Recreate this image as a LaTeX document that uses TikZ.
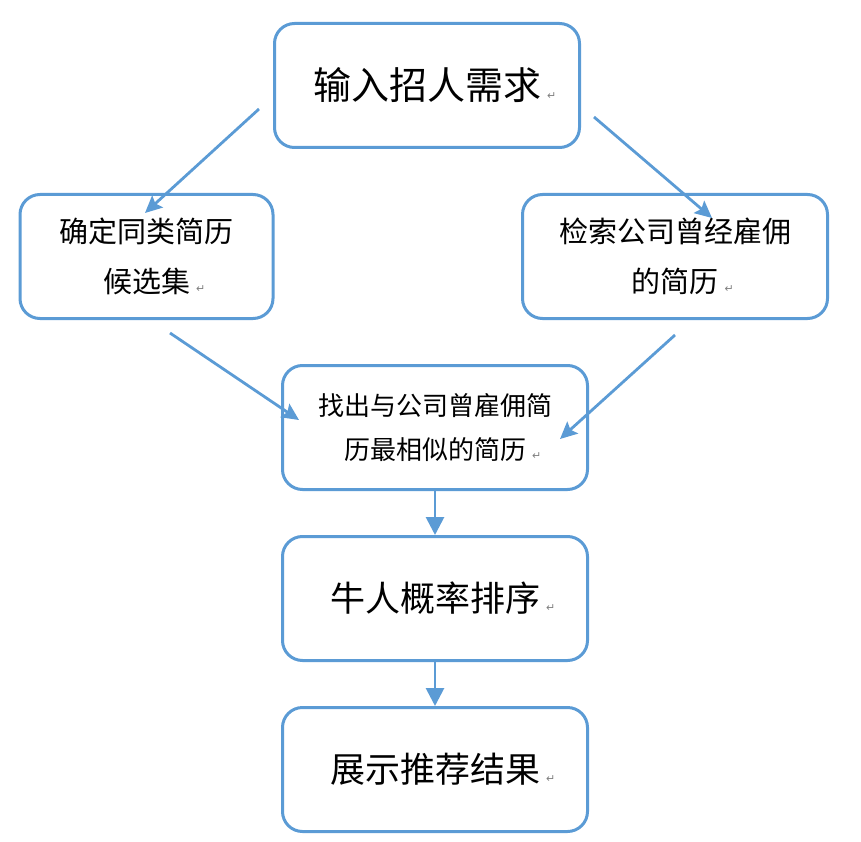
\documentclass[tikz,border=0pt]{standalone}
\usepackage{fontspec}
\newfontfamily\cjk{Noto Sans CJK SC}
\newfontfamily\symfont{DejaVu Sans}
\usetikzlibrary{arrows.meta}
\definecolor{wordblue}{HTML}{5B9BD5}
\newcommand{\retmark}{\rlap{\hspace{6pt}{\symfont\fontsize{11}{11}\selectfont\color{gray}↵}}}
\begin{document}
\begin{tikzpicture}[x=1pt,y=-1pt]

        \tikzset{
          stepbox/.style={draw=wordblue, line width=3pt, rounded corners=20pt,
            minimum width=305pt, minimum height=124pt, align=center, inner sep=0pt},
          flow/.style={draw=wordblue, line width=2.8pt, -{Stealth[length=17pt,width=16pt,inset=3pt]}},
          down/.style={draw=wordblue, line width=2.8pt, -{Triangle[length=18pt,width=18pt]}}
        }

        \useasboundingbox (0,0) rectangle (861,842);

        % Boxes
        \node[stepbox, font=\cjk\fontsize{38}{44}\selectfont] (need) at (427,85.5) {输入招人需求\retmark};
        \node[stepbox, minimum width=253pt, font=\cjk\fontsize{29}{50}\selectfont] (similar) at (146.5,256.5)
          {确定同类简历\\候选集\retmark};
        \node[stepbox, font=\cjk\fontsize{29}{50}\selectfont] (hired) at (675,256.5)
          {检索公司曾经雇佣\\的简历\retmark};
        \node[stepbox, font=\cjk\fontsize{26}{44}\selectfont] (match) at (435,427.5)
          {找出与公司曾雇佣简\\历最相似的简历\retmark};
        \node[stepbox, font=\cjk\fontsize{35}{44}\selectfont] (rank) at (435,598.5) {牛人概率排序\retmark};
        \node[stepbox, font=\cjk\fontsize{35}{44}\selectfont] (show) at (435,769.5) {展示推荐结果\retmark};

        % Arrow ends
        \coordinate (needL) at (259,109);
        \coordinate (similarT) at (145,213);
        \coordinate (needR) at (594,117);
        \coordinate (hiredT) at (712,218);
        \coordinate (similarB) at (170,333);
        \coordinate (matchL) at (299,420);
        \coordinate (hiredB) at (675,335);
        \coordinate (matchR) at (560,439);

        \draw[flow] (needL) -- (similarT);
        \draw[flow] (needR) -- (hiredT);
        \draw[flow] (similarB) -- (matchL);
        \draw[flow] (hiredB) -- (matchR);

        \draw[down] (match) -- (rank);
        \draw[down] (rank) -- (show);

      \end{tikzpicture}
\end{document}
